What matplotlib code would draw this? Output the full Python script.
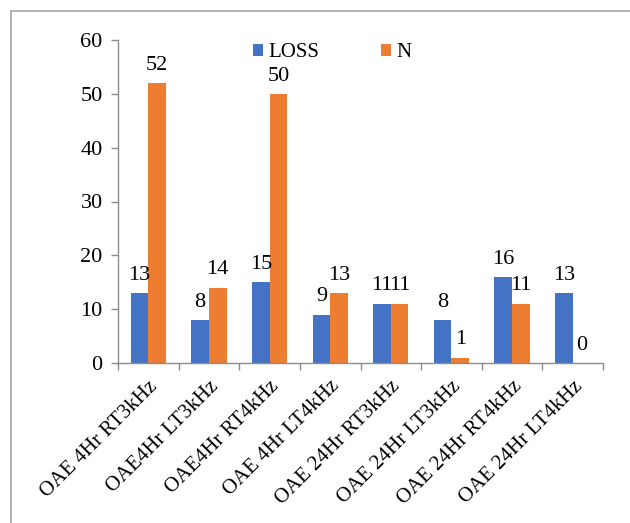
import numpy as np
import matplotlib
matplotlib.use("Agg")
import matplotlib.pyplot as plt
from matplotlib.patches import Rectangle

# ----------------------------
# Datos
# ----------------------------
categories = ["OAE 4Hr RT3kHz", "OAE4Hr LT3kHz", "OAE4Hr RT4kHz", "OAE 4Hr LT4kHz",
              "OAE 24Hr RT3kHz", "OAE 24Hr LT3kHz", "OAE 24Hr RT4kHz", "OAE 24Hr LT4kHz"]
loss_vals = [13, 8, 15, 9, 11, 8, 16, 13]
n_vals = [52, 14, 50, 13, 11, 1, 11, 0]
y_ticks = [0, 10, 20, 30, 40, 50, 60]

plt.rcParams["font.family"] = ["Liberation Serif", "DejaVu Serif"]

BLUE = "#4472C4"
ORANGE = "#ED7D31"
GRAY = "#8C8C8C"
FS = 16

fig = plt.figure(figsize=(6.3, 5.23), dpi=100)
ax = fig.add_axes([118 / 630, 1 - 363 / 523, (603 - 118) / 630, (363 - 40) / 523])

x = np.arange(len(categories))
w = 0.29
b1 = ax.bar(x - w / 2, loss_vals, w, color=BLUE, label="LOSS")
b2 = ax.bar(x + w / 2, n_vals, w, color=ORANGE, label="N")

for bars, vals in ((b1, loss_vals), (b2, n_vals)):
    for rect, v in zip(bars, vals):
        ax.annotate(str(v), (rect.get_x() + rect.get_width() / 2, v),
                    xytext=(0, 6), textcoords="offset points",
                    ha="center", va="bottom", fontsize=FS)

ax.set_xlim(-0.5, len(categories) - 0.5)
ax.set_ylim(0, 60)
ax.set_yticks(y_ticks)
ax.tick_params(axis="y", labelsize=FS, length=5, color=GRAY, width=1, pad=6)

# ticks del eje x en los limites de cada categoria, etiquetas en el centro
ax.set_xticks(np.arange(len(categories) + 1) - 0.5)
ax.set_xticklabels([])
ax.set_xticks(x, minor=True)
ax.set_xticklabels(categories, minor=True, rotation=45, ha="right", va="top",
                   rotation_mode="anchor", fontsize=15)
ax.tick_params(axis="x", which="major", length=5, color=GRAY, width=1, direction="out")
ax.tick_params(axis="x", which="minor", length=0, pad=10)

for side in ("top", "right"):
    ax.spines[side].set_visible(False)
for side in ("left", "bottom"):
    ax.spines[side].set_color(GRAY)
    ax.spines[side].set_linewidth(1)

leg = ax.legend(loc="center left", bbox_to_anchor=(0.278, 0.96), ncol=2, frameon=False,
                fontsize=15, handlelength=0.48, handleheight=0.48, handletextpad=0.25,
                columnspacing=3.0, borderpad=0, borderaxespad=0)

# marco exterior del grafico
fig.patches.append(Rectangle((11 / 630, -0.05), 1.2, 1 - 11 / 523 + 0.05,
                             transform=fig.transFigure, fill=False,
                             edgecolor="#A6A6A6", linewidth=1.2))

fig.savefig("out.png", dpi=100)
